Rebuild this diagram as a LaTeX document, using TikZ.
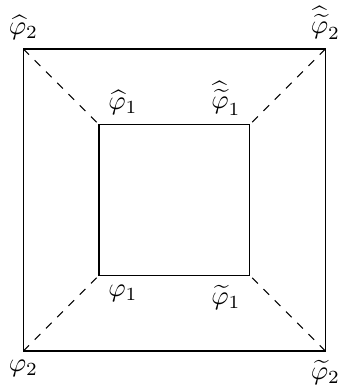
\documentclass[tikz,border=0pt]{standalone}
\usepackage{amsmath}
\usepackage{tikz}
\tikzset{
  edge/.style={thin,draw=black},
  diag/.style={thin,draw=black,dashed},
  corner/.style={inner sep=0pt,minimum size=0pt}
}
\begin{document}
\begin{tikzpicture}
\useasboundingbox (-0.311,-0.530) rectangle (4.166,4.649);
% outer and inner corners
\coordinate (obl) at (0,0); \coordinate (obr) at (4,0);
\coordinate (otr) at (4,4); \coordinate (otl) at (0,4);
\coordinate (ibl) at (1,1); \coordinate (ibr) at (3,1);
\coordinate (itr) at (3,3); \coordinate (itl) at (1,3);
\draw[edge] (obl) -- (obr) -- (otr) -- (otl) -- cycle;
\draw[edge] (ibl) -- (ibr) -- (itr) -- (itl) -- cycle;
\draw[diag] (obl) -- (ibl); \draw[diag] (obr) -- (ibr);
\draw[diag] (otr) -- (itr); \draw[diag] (otl) -- (itl);

\node[anchor=south] (lotl) at (otl) {$\widehat{\varphi}_2$};
\node[anchor=south] (lotr) at (otr) {$\widehat{\widetilde{\varphi}}_2$};
\node[anchor=north] (lobl) at (obl) {$\varphi_2$};
\node[anchor=north] (lobr) at (obr) {$\widetilde{\varphi}_2$};
\node[anchor=south west] (litl) at (itl) {$\widehat{\varphi}_1$};
\node[anchor=south east] (litr) at (itr) {$\widehat{\widetilde{\varphi}}_1$};
\node[anchor=north west] (libl) at (ibl) {$\varphi_1$};
\node[anchor=north east] (libr) at (ibr) {$\widetilde{\varphi}_1$};
\end{tikzpicture}
\end{document}
